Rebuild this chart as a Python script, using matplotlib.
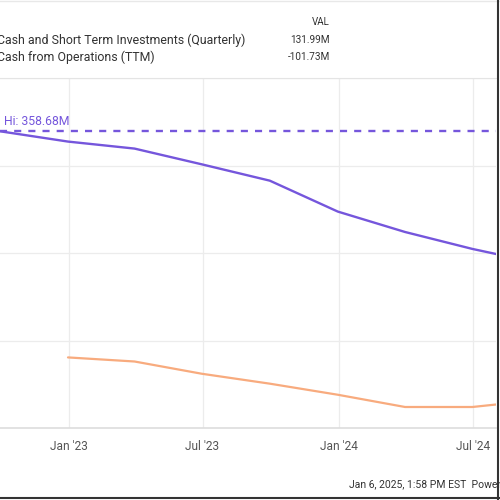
import numpy as np
import matplotlib
matplotlib.use("Agg")
import matplotlib.pyplot as plt
from matplotlib.lines import Line2D

plt.rcParams['font.family'] = ['Roboto', 'DejaVu Sans']

# quarterly data (millions USD)
dates_cash = ["2022-09-30", "2022-12-31", "2023-03-31", "2023-06-30", "2023-09-30",
              "2023-12-31", "2024-03-31", "2024-06-30", "2024-09-30"]
cash_sti = [358.68, 341, 329, 302, 274, 221, 186, 157, 131.99]

dates_ops = ["2022-12-31", "2023-03-31", "2023-06-30", "2023-09-30",
             "2023-12-31", "2024-03-31", "2024-06-30", "2024-09-30"]
cash_ops = [-29, -36, -57, -74, -93, -114, -114, -101.73]

hi_value = 358.68
tick_dates = ["2023-01-01", "2023-07-01", "2024-01-01", "2024-07-01"]
tick_labels = ["Jan '23", "Jul '23", "Jan '24", "Jul '24"]

purple = "#7556dc"
orange = "#f8ab7e"
txt = "#333333"

fig = plt.figure(figsize=(5, 5), dpi=100)
ax = fig.add_axes([0.0, 1 - 428 / 500, 496 / 500, 350 / 500])

dc = np.array(dates_cash, dtype="datetime64[D]")
do = np.array(dates_ops, dtype="datetime64[D]")
ax.plot(dc, cash_sti, color=purple, lw=1.7, solid_capstyle="round", zorder=3)
ax.plot(do, cash_ops, color=orange, lw=1.6, solid_capstyle="round", zorder=3)
ax.axhline(hi_value, color=purple, lw=1.7, ls=(0, (3, 3)), zorder=2)
ax.text(np.datetime64("2022-10-05"), hi_value + 5, "Hi: 358.68M", color=purple,
        fontsize=8.8, va="bottom", ha="left")

ax.set_xlim(np.datetime64("2022-09-30"), np.datetime64("2024-08-01"))
ax.set_ylim(-150, 450)
ax.set_yticks([-150, 0, 150, 300, 450])
ax.set_yticklabels([])
ax.set_xticks(np.array(tick_dates, dtype="datetime64[D]"))
ax.set_xticklabels(tick_labels, fontsize=8.6, color="#555555")
ax.tick_params(axis="x", length=0, pad=9)
ax.tick_params(axis="y", length=0)
ax.grid(True, color="#ececec", lw=0.9)
ax.set_axisbelow(True)
for s in ["left", "right"]:
    ax.spines[s].set_visible(False)
ax.spines["top"].set_color("#e4e4e4")
ax.spines["bottom"].set_color("#dddddd")
ax.spines["bottom"].set_linewidth(1.2)

# legend table at top
fig.text(330 / 500, 1 - 22 / 500, "VAL", fontsize=7, ha="right", va="center", color=txt)
fig.text(-3 / 500, 1 - 40 / 500, "Cash and Short Term Investments (Quarterly)", fontsize=8.9,
         ha="left", va="center", color=txt)
fig.text(330 / 500, 1 - 40 / 500, "131.99M", fontsize=7.2, ha="right", va="center", color=txt)
fig.text(-3 / 500, 1 - 57 / 500, "Cash from Operations (TTM)", fontsize=8.9,
         ha="left", va="center", color=txt)
fig.text(330 / 500, 1 - 57 / 500, "-101.73M", fontsize=7.2, ha="right", va="center", color=txt)

# footer (runs off the right edge as in the cropped original)
fig.text(349 / 500, 1 - 485 / 500, "Jan 6, 2025, 1:58 PM EST  Powered by YCHARTS", fontsize=7.5,
         ha="left", va="center", color=txt)

# faint top line and dark screenshot border
fig.add_artist(Line2D([0, 1], [0.998, 0.998], color="#e8e8e8", lw=1))
fig.add_artist(Line2D([498 / 500, 498 / 500], [0, 1], color="#333333", lw=1.5))
fig.add_artist(Line2D([0, 1], [2 / 500, 2 / 500], color="#333333", lw=1.5))

fig.savefig("out.png", dpi=100)
